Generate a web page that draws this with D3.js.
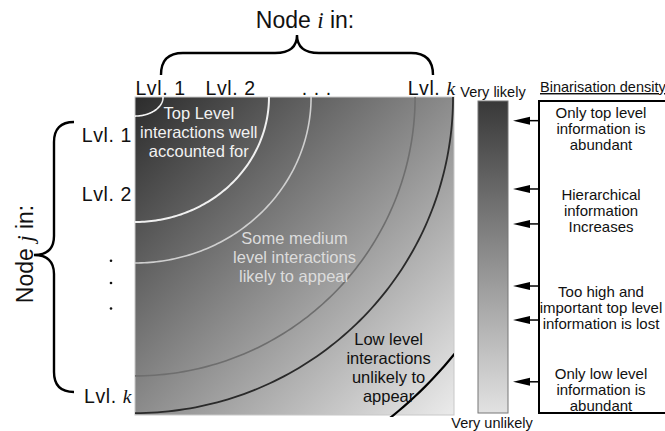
<!DOCTYPE html>
<html><head><meta charset="utf-8">
<script src="https://cdn.jsdelivr.net/npm/d3@7"></script>
<style>
html,body{margin:0;padding:0;background:#fff;}
text{font-family:"Liberation Sans",Arial,sans-serif;}
.it{font-family:"Liberation Serif","DejaVu Serif",serif;font-style:italic;}
</style></head>
<body>
<svg id="c" width="665" height="431"></svg>
<script>
// ---- data ----
const columnLabels = ["Lvl. 1", "Lvl. 2", ". . .", "Lvl. k"];
const columnPos = [0.08, 0.30, 0.57, 0.93];
const rowLabels = ["Lvl. 1", "Lvl. 2", "Lvl. k"];
const rowPos = [0.12, 0.305, 0.94];
const rowDots = [0.515, 0.585, 0.665];
// quarter-ellipse contours (normalised radii from top-left corner)
const arcRx = [0.088, 0.42, 0.552, 0.878, 0.997, 1.285];
const arcRy = [0.060, 0.393, 0.522, 0.877, 0.994, 1.289];
const regionTexts = [
  ["Top Level", "interactions well", "accounted for"],
  ["Some medium", "level interactions", "likely to appear"],
  ["Low level", "interactions", "unlikely to", "appear"]
];
const regionAnchor = [[0.2, 0.07], [0.5, 0.463], [0.795, 0.78]];
const densityLevels = [0.063, 0.282, 0.394, 0.593, 0.702, 0.9];
const densityTexts = [
  {y: 0.055, lines: ["Only top level", "information is", "abundant"]},
  {y: 0.317, lines: ["Hierarchical", "information", "Increases"]},
  {y: 0.628, lines: ["Too high and", "important top level", "information is lost"]},
  {y: 0.89, lines: ["Only low level", "information is", "abundant"]}
];

// ---- drawing ----
const svg = d3.select("#c");
const defs = svg.append("defs");
const sq = {x: 135, y: 97, w: 319, h: 318};
const xS = d3.scaleLinear([0, 1], [sq.x, sq.x + sq.w]);
const yS = d3.scaleLinear([0, 1], [sq.y, sq.y + sq.h]);

const g1 = defs.append("linearGradient").attr("id", "sqg")
  .attr("x1", 0).attr("y1", 0).attr("x2", 1).attr("y2", 1);
g1.append("stop").attr("offset", 0).attr("stop-color", "#2c2c2c");
g1.append("stop").attr("offset", 1).attr("stop-color", "#ebebeb");
const g2 = defs.append("linearGradient").attr("id", "cbg")
  .attr("x1", 0).attr("y1", 0).attr("x2", 0).attr("y2", 1);
g2.append("stop").attr("offset", 0).attr("stop-color", "#383838");
g2.append("stop").attr("offset", 1).attr("stop-color", "#e2e2e2");
defs.append("clipPath").attr("id", "sqclip").append("rect")
  .attr("x", sq.x).attr("y", sq.y).attr("width", sq.w).attr("height", sq.h + 2);

svg.append("rect").attr("x", sq.x).attr("y", sq.y).attr("width", sq.w).attr("height", sq.h)
  .attr("fill", "url(#sqg)").attr("stroke", "#c8c8c8").attr("stroke-width", 1);

const arcColors = ["#f4f4f4", "#f0f0f0", "#cfcfcf", "#6e6e6e", "#2a2a2a", "#000"];
const arcWidths = [1.6, 2, 1.6, 1.6, 1.8, 2.2];
const ag = svg.append("g").attr("clip-path", "url(#sqclip)");
arcRx.forEach((rx, i) => {
  const ry = arcRy[i];
  const pts = d3.range(0, 91).map(a => {
    const t = a * Math.PI / 180;
    return [xS(rx * Math.sin(t)), yS(ry * Math.cos(t))];
  });
  ag.append("path").attr("d", d3.line()(pts)).attr("fill", "none")
    .attr("stroke", arcColors[i]).attr("stroke-width", arcWidths[i]);
});

const regColors = ["#f2f2f2", "#dcdcdc", "#111"];
regionTexts.forEach((lines, i) => {
  const t = svg.append("text").attr("text-anchor", "middle").attr("font-size", 16.5)
    .attr("fill", regColors[i]);
  lines.forEach((l, j) => t.append("tspan").attr("x", xS(regionAnchor[i][0]))
    .attr("y", yS(regionAnchor[i][1]) + j * 19).text(l));
});

function lvl(sel, label) {
  if (label.endsWith("k")) {
    sel.append("tspan").text(label.slice(0, -1));
    sel.append("tspan").attr("class", "it").text("k");
  } else sel.text(label);
}
// column labels
columnLabels.forEach((l, i) => {
  const t = svg.append("text").attr("x", xS(columnPos[i])).attr("y", 95)
    .attr("text-anchor", "middle").attr("font-size", 19.5).attr("fill", "#111")
    .attr("letter-spacing", 0.6);
  lvl(t, l);
});
// row labels
rowLabels.forEach((l, i) => {
  const t = svg.append("text").attr("x", 132).attr("y", yS(rowPos[i]) + 7)
    .attr("text-anchor", "end").attr("font-size", 19.5).attr("fill", "#111")
    .attr("letter-spacing", 0.6);
  lvl(t, l);
});
rowDots.forEach(p => svg.append("circle").attr("cx", 111).attr("cy", yS(p)).attr("r", 1.3).attr("fill", "#111"));

// braces
svg.append("path").attr("fill", "none").attr("stroke", "#000").attr("stroke-width", 2.4)
  .attr("d", "M161,75 Q161,53 183,53 L275,53 Q297,53 297,35 Q297,53 319,53 L411,53 Q433,53 433,75");
svg.append("path").attr("fill", "none").attr("stroke", "#000").attr("stroke-width", 2.4)
  .attr("d", "M74,122 Q54,122 54,142 L54,236 Q54,255 34,255 Q54,255 54,274 L54,372 Q54,392 74,392");

const nt = svg.append("text").attr("x", 305).attr("y", 28).attr("text-anchor", "middle")
  .attr("font-size", 23).attr("fill", "#111");
nt.append("tspan").text("Node ");
nt.append("tspan").attr("class", "it").text("i");
nt.append("tspan").text(" in:");
const nj = svg.append("text").attr("transform", "translate(33,254) rotate(-90)")
  .attr("text-anchor", "middle").attr("font-size", 23).attr("fill", "#111");
nj.append("tspan").text("Node ");
nj.append("tspan").attr("class", "it").text("j");
nj.append("tspan").text(" in:");

// colour bar
const cb = {x: 478, y: 101, w: 30, h: 312};
const cS = d3.scaleLinear([0, 1], [cb.y, cb.y + cb.h]);
svg.append("rect").attr("x", cb.x).attr("y", cb.y).attr("width", cb.w).attr("height", cb.h)
  .attr("fill", "url(#cbg)").attr("stroke", "#777").attr("stroke-width", 1);
svg.append("text").attr("x", 493).attr("y", 97).attr("text-anchor", "middle")
  .attr("font-size", 14.5).attr("fill", "#111").text("Very likely");
svg.append("text").attr("x", 492).attr("y", 428).attr("text-anchor", "middle")
  .attr("font-size", 14.5).attr("fill", "#111").text("Very unlikely");

// density box
svg.append("path").attr("fill", "none").attr("stroke", "#000").attr("stroke-width", 2)
  .attr("d", "M680,101 L539,101 L539,413 L680,413");
svg.append("text").attr("x", 540).attr("y", 92).attr("font-size", 14.5).attr("fill", "#111")
  .attr("text-decoration", "underline").text("Binarisation density");
densityLevels.forEach(p => {
  const y = cS(p);
  svg.append("line").attr("x1", 528).attr("x2", 539).attr("y1", y).attr("y2", y)
    .attr("stroke", "#000").attr("stroke-width", 1.5);
  svg.append("path").attr("d", `M513,${y} L530,${y - 4} L530,${y + 4} Z`).attr("fill", "#000");
});
densityTexts.forEach(d => {
  const t = svg.append("text").attr("text-anchor", "middle").attr("font-size", 15).attr("fill", "#111");
  d.lines.forEach((l, j) => t.append("tspan").attr("x", 601).attr("y", cS(d.y) + j * 16).text(l));
});
</script>
</body></html>
